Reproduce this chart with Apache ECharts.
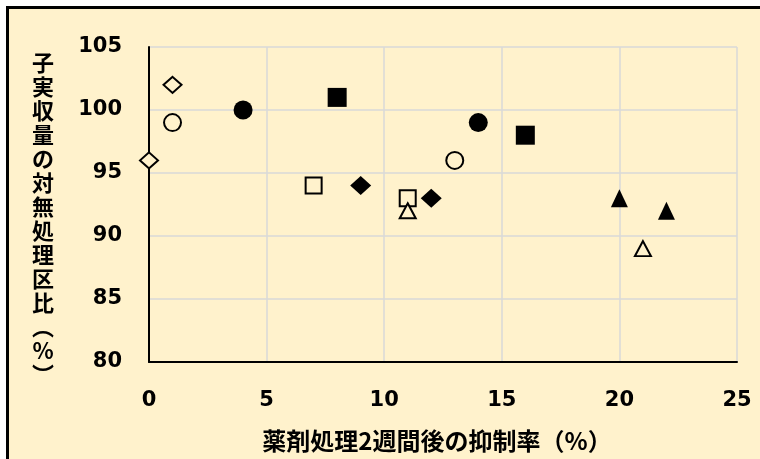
<!DOCTYPE html>
<html><head><meta charset="utf-8">
<script src="https://cdn.jsdelivr.net/npm/echarts@6/dist/echarts.min.js"></script>
<style>
html,body{margin:0;padding:0;background:#fff;overflow:hidden}
#bg{position:absolute;left:6px;top:6px;width:800px;height:500px;border-top:3px solid #000;border-left:3px solid #000;background:#FFF2CC}
#chart{position:absolute;left:0;top:0;width:760px;height:459px}
</style></head><body><div id="bg"></div><div id="chart"></div>
<script>
// Data (x: 抑制率 %, y: 対無処理区比 %)
const openDiamond   = [[0, 96], [1, 102]];
const openCircle    = [[1, 99], [13, 96]];
const filledCircle  = [[4, 100], [14, 99]];
const filledSquare  = [[8, 101], [16, 98]];
const openSquare    = [[7, 94], [11, 93]];
const filledDiamond = [[9, 94], [12, 93]];
const openTriangle  = [[11, 92], [21, 89]];
const filledTriangle= [[20, 93], [22, 92]];

const xTitle = '薬剤処理2週間後の抑制率（%）';
const yTitleChars = ['子','実','収','量','の','対','無','処','理','区','比','︵','%','︶'];

const CREAM = '#FFF2CC';
const openStyle = {color: CREAM, borderColor: '#000', borderWidth: 2, opacity: 1};
const fillStyle = {color: '#000', opacity: 1};

function s(data, symbol, size, style) {
  return {type: 'scatter', data: data, symbol: symbol, symbolSize: size,
          itemStyle: style, emphasis: {disabled: true}, silent: true};
}

const chart = echarts.init(document.getElementById('chart'), null, {renderer: 'canvas'});
chart.setOption({
  animation: false,
  backgroundColor: 'transparent',
  grid: {left: 149, right: 23, top: 47, bottom: 97, containLabel: false},
  xAxis: {
    type: 'value', min: 0, max: 25, interval: 5,
    name: xTitle, nameLocation: 'middle', nameGap: 67,
    nameTextStyle: {fontFamily: 'Noto Sans CJK JP', fontWeight: 'bold', fontSize: 24, color: '#000', padding: [0, 12, 0, 0]},
    axisLine: {show: true, onZero: false, lineStyle: {color: '#000', width: 2}},
    axisTick: {show: false},
    axisLabel: {fontFamily: 'DejaVu Sans', fontWeight: 'bold', fontSize: 21, color: '#000', margin: 28},
    splitLine: {show: true, lineStyle: {color: '#D9D9D9', width: 1.5}}
  },
  yAxis: {
    type: 'value', min: 80, max: 105, interval: 5,
    axisLine: {show: true, onZero: false, lineStyle: {color: '#000', width: 2}},
    axisTick: {show: false},
    axisLabel: {fontFamily: 'DejaVu Sans', fontWeight: 'bold', fontSize: 21, color: '#000', margin: 27},
    splitLine: {show: true, lineStyle: {color: '#D9D9D9', width: 1.5}}
  },
  graphic: [{
    type: 'text', x: 43, y: 219, silent: true,
    style: {text: yTitleChars.join('\n'), fontFamily: 'Noto Sans CJK JP', fontWeight: 'bold',
            fontSize: 22, lineHeight: 24, fill: '#000', align: 'center', verticalAlign: 'middle'}
  }],
  series: [
    s(openDiamond, 'diamond', [18, 16], openStyle),
    s(openCircle, 'circle', 17, openStyle),
    s(filledCircle, 'circle', 19, fillStyle),
    s(filledSquare, 'rect', 19, fillStyle),
    s(openSquare, 'rect', 16, openStyle),
    s(filledDiamond, 'diamond', [21, 19], fillStyle),
    s(openTriangle, 'triangle', [16, 15], openStyle),
    s(filledTriangle, 'triangle', [17, 18], fillStyle)
  ]
});
</script></body></html>
